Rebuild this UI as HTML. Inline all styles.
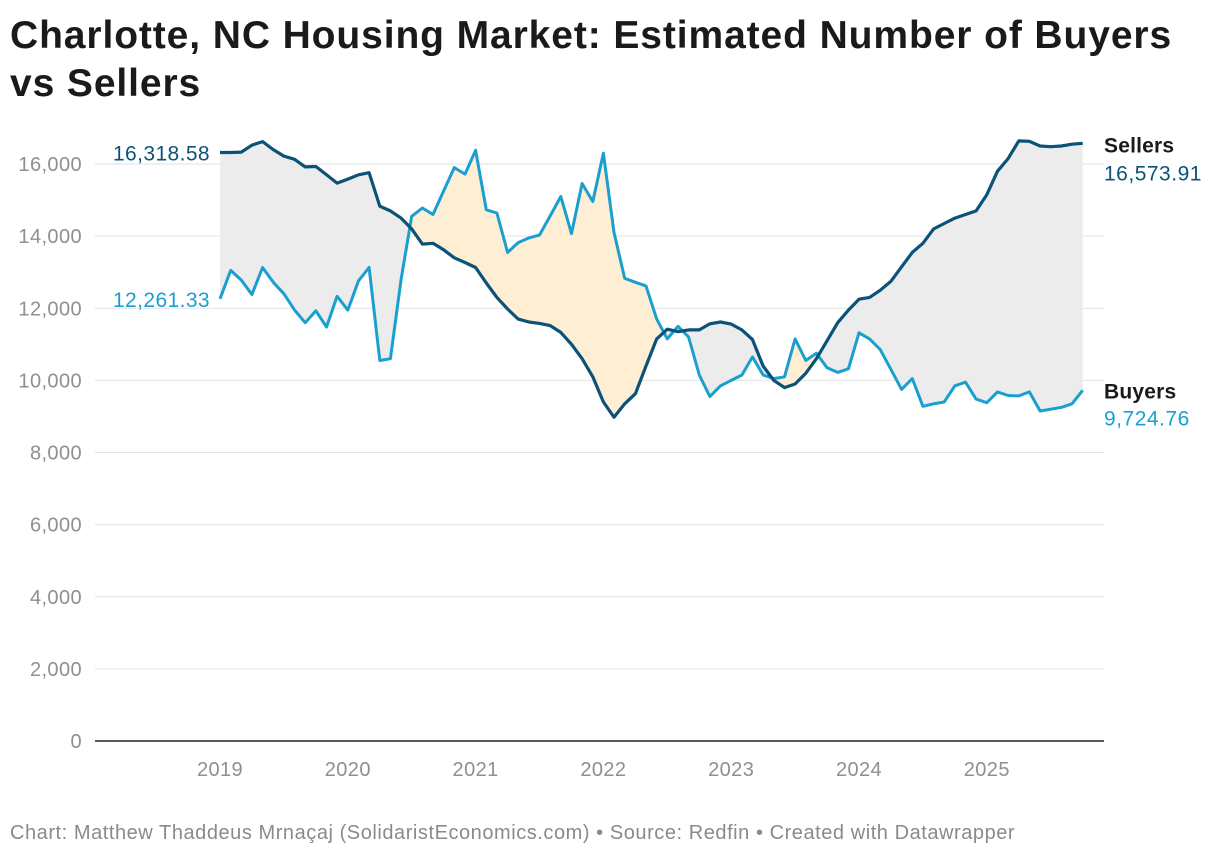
<!DOCTYPE html>
<html><head><meta charset="utf-8"><style>
body{margin:0;background:#fff;font-family:"Liberation Sans",Arial,sans-serif;}
#wrap{position:relative;width:1220px;height:858px;overflow:hidden;}
h1{position:absolute;left:10px;top:12px;margin:0;font-size:39px;line-height:48px;font-weight:bold;color:#1a1a1a;letter-spacing:0.9px;width:1205px;}
#foot{position:absolute;left:10px;top:822px;font-size:20px;color:#8a8a8a;letter-spacing:0.55px;white-space:nowrap;}
</style></head><body>
<div id="wrap">
<h1>Charlotte, NC Housing Market: Estimated Number of Buyers vs Sellers</h1>
<svg id="chart" width="1220" height="858" style="position:absolute;left:0;top:0"></svg>
<div id="foot">Chart: Matthew Thaddeus Mrnaçaj (SolidaristEconomics.com) • Source: Redfin • Created with Datawrapper</div>
</div>
<script>
const yTicks=[0,2000,4000,6000,8000,10000,12000,14000,16000];
const yTickLabels=["0","2,000","4,000","6,000","8,000","10,000","12,000","14,000","16,000"];
const xTickYears=[2019,2020,2021,2022,2023,2024,2025];
const sellers=[16318.58,16318,16330,16520,16620,16400,16220,16130,15920,15930,15700,15470,15580,15700,15760,14830,14700,14500,14200,13780,13800,13620,13400,13270,13130,12700,12300,11980,11700,11620,11580,11520,11330,11000,10600,10100,9400,8980,9350,9630,10400,11150,11420,11350,11400,11400,11570,11620,11560,11400,11130,10400,10000,9800,9900,10200,10600,11100,11600,11950,12250,12300,12500,12750,13150,13550,13800,14200,14350,14500,14600,14700,15150,15800,16150,16640,16630,16500,16480,16500,16550,16573.91];
const buyers=[12261.33,13050,12780,12380,13130,12720,12400,11950,11600,11930,11480,12330,11950,12760,13130,10550,10600,12800,14550,14780,14600,15250,15900,15720,16380,14730,14640,13550,13820,13950,14030,14560,15100,14070,15460,14960,16300,14100,12830,12720,12620,11700,11150,11500,11200,10150,9550,9850,10000,10150,10650,10150,10050,10100,11150,10550,10750,10350,10220,10320,11320,11150,10850,10300,9750,10050,9280,9350,9400,9850,9950,9480,9380,9680,9580,9570,9680,9150,9200,9250,9350,9724.76];
const NS="http://www.w3.org/2000/svg";
const svg=document.getElementById('chart');
const X0=95,X1=1104;
function yS(v){return 741-v*(577/16000);}
function xM(i){return 220+i*(127.8/12);}
function xY(yr){return 220+(yr-2019)*127.8;}
function mk(t,a){const e=document.createElementNS(NS,t);for(const k in a)e.setAttribute(k,a[k]);svg.appendChild(e);return e;}
function txt(s,a){const e=mk('text',a);e.textContent=s;return e;}
yTicks.forEach((v,i)=>{
  if(v>0){const g=mk('line',{x1:X0,x2:X1,y1:yS(v),y2:yS(v),stroke:'#e2e2e2','stroke-width':1});
  
  }
  const t=txt(yTickLabels[i],{x:82,y:yS(v)+7,'text-anchor':'end','font-size':20,'letter-spacing':0.4,fill:'#8f8f8f','font-family':'Liberation Sans, sans-serif'});
  
  
});
xTickYears.forEach(yr=>{
  const t=txt(String(yr),{x:xY(yr),y:776,'text-anchor':'middle','font-size':20,'letter-spacing':0.4,fill:'#8f8f8f','font-family':'Liberation Sans, sans-serif'});
  
  
});
const sp=sellers.map((v,i)=>[xM(i),yS(v)]);
const bp=buyers.map((v,i)=>[xM(i),yS(v)]);
const pstr=a=>a.map(p=>p[0].toFixed(1)+','+p[1].toFixed(1)).join(' ');
const defs=mk('defs',{});
const cA=document.createElementNS(NS,'clipPath');cA.setAttribute('id','above');defs.appendChild(cA);
const pa=document.createElementNS(NS,'polygon');pa.setAttribute('points',pstr(sp)+' '+xM(sellers.length-1)+',0 '+xM(0)+',0');cA.appendChild(pa);
const cB=document.createElementNS(NS,'clipPath');cB.setAttribute('id','below');defs.appendChild(cB);
const pb=document.createElementNS(NS,'polygon');pb.setAttribute('points',pstr(sp)+' '+xM(sellers.length-1)+',800 '+xM(0)+',800');cB.appendChild(pb);
const between=pstr(sp)+' '+pstr(bp.slice().reverse());
const f1=mk('polygon',{points:between,fill:'#ececec','clip-path':'url(#below)'});


const f2=mk('polygon',{points:between,fill:'#fdeed4','clip-path':'url(#above)'});


const ax=mk('line',{x1:X0,x2:X1,y1:741,y2:741,stroke:'#222','stroke-width':1.5});


const lb=mk('polyline',{points:pstr(bp),fill:'none',stroke:'#1a9fd0','stroke-width':3,'stroke-linejoin':'round'});


const ls=mk('polyline',{points:pstr(sp),fill:'none',stroke:'#0b5279','stroke-width':3.2,'stroke-linejoin':'round'});


const fmt=v=>v.toLocaleString('en-US',{minimumFractionDigits:2,maximumFractionDigits:2});
const F='Liberation Sans, sans-serif';
let t;
t=txt(fmt(sellers[0]),{x:210,y:yS(sellers[0])+8,'text-anchor':'end','font-size':21,'letter-spacing':0.4,fill:'#0b5279','font-family':F});


t=txt(fmt(buyers[0]),{x:210,y:yS(buyers[0])+8,'text-anchor':'end','font-size':21,'letter-spacing':0.4,fill:'#1a9fd0','font-family':F});


const ls_=sellers[sellers.length-1],lbv=buyers[buyers.length-1];
t=txt('Sellers',{x:1104,y:yS(ls_)+9,'font-size':21,'font-weight':'bold','letter-spacing':0.2,fill:'#1a1a1a','font-family':F});


t=txt(fmt(ls_),{x:1104,y:yS(ls_)+37,'font-size':21,'letter-spacing':0.5,fill:'#0b5279','font-family':F});


t=txt('Buyers',{x:1104,y:yS(lbv)+8,'font-size':21,'font-weight':'bold','letter-spacing':0.2,fill:'#1a1a1a','font-family':F});


t=txt(fmt(lbv),{x:1104,y:yS(lbv)+35,'font-size':21,'letter-spacing':0.5,fill:'#1a9fd0','font-family':F});


</script>
</body></html>
